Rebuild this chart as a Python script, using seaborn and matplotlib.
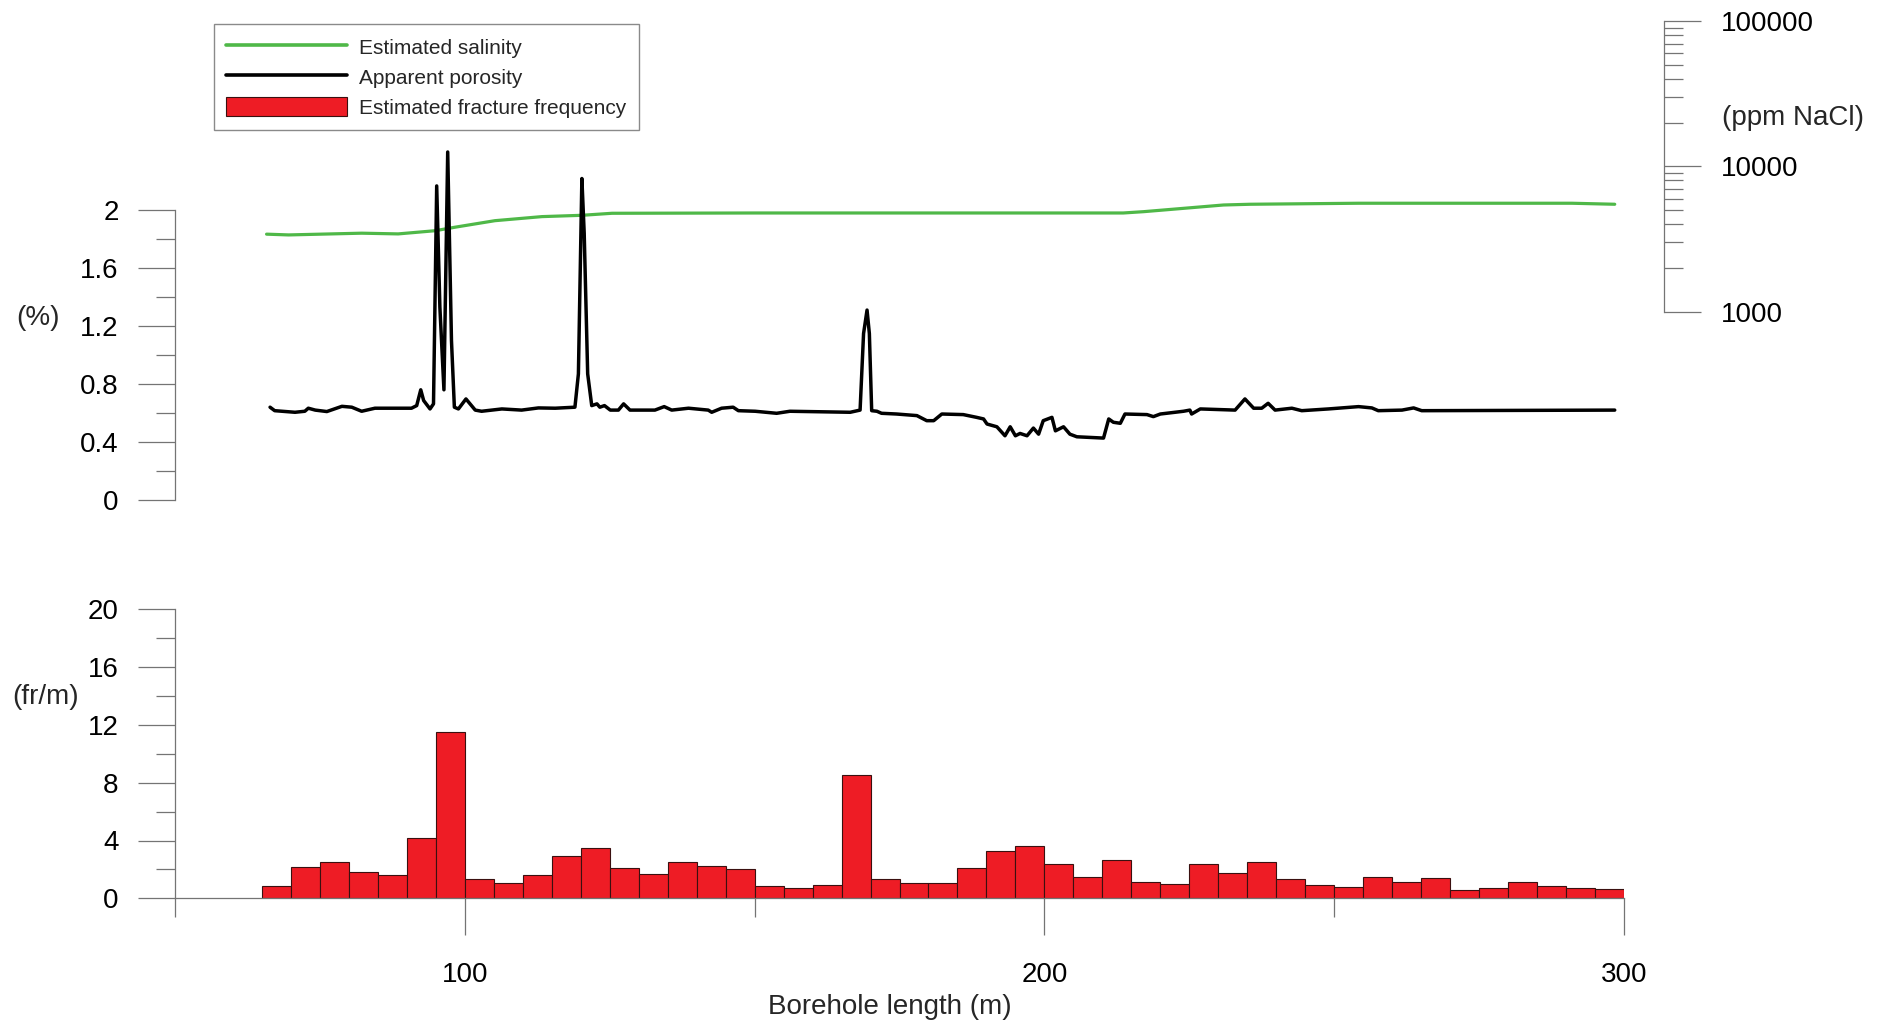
import numpy as np
import matplotlib
matplotlib.use('Agg')
import matplotlib.pyplot as plt
from matplotlib.lines import Line2D
from matplotlib.patches import Patch
from matplotlib.ticker import FixedLocator, FuncFormatter, NullFormatter
import seaborn as sns

# ---- data ----
# apparent porosity (%) vs borehole length (m)
porosity_depth = [66.4, 67.2, 70.7, 72.4, 73.0, 74.2, 76.2, 78.8, 80.5, 82.2, 84.5, 88.0, 90.8,
                  91.7, 92.4, 92.9, 94.0, 94.6, 95.15, 95.7, 96.4, 97.05, 97.7, 98.2, 98.9, 100.2,
                  101.8, 102.9, 106.4, 109.8, 112.7, 115.6, 119.0, 119.6, 120.2, 120.6, 121.2,
                  121.9, 122.8, 123.3, 124.1, 125.1, 126.5, 127.4, 128.5, 132.8, 134.4, 135.7,
                  138.6, 142.0, 142.6, 144.3, 146.3, 147.2, 150.1, 153.8, 156.1, 166.5, 168.2,
                  168.8, 169.4, 169.8, 170.2, 171.1, 171.9, 174.5, 178.0, 179.7, 180.9, 182.3,
                  186.0, 188.3, 189.5, 190.1, 191.8, 193.2, 194.1, 195.0, 195.8, 197.0, 198.1,
                  199.0, 199.8, 201.3, 201.9, 203.3, 204.4, 205.6, 210.2, 211.1, 211.9, 213.1,
                  213.9, 217.7, 218.8, 220.0, 224.0, 225.1, 225.4, 226.9, 232.9, 234.6, 236.1,
                  237.5, 238.6, 239.8, 242.7, 244.4, 249.0, 254.2, 256.5, 257.6, 261.7, 263.7,
                  265.1, 298.4]
porosity_value = [0.64, 0.616, 0.605, 0.612, 0.633, 0.62, 0.61, 0.646, 0.64, 0.612, 0.633, 0.633, 0.633,
                  0.651, 0.76, 0.686, 0.628, 0.663, 2.166, 1.33, 0.76, 2.40, 1.10, 0.64, 0.628, 0.697,
                  0.62, 0.612, 0.628, 0.62, 0.635, 0.633, 0.64, 0.87, 2.217, 1.84, 0.87,
                  0.651, 0.663, 0.64, 0.651, 0.62, 0.62, 0.663, 0.62, 0.62, 0.644, 0.62,
                  0.633, 0.62, 0.605, 0.633, 0.64, 0.616, 0.612, 0.598, 0.612, 0.605, 0.62,
                  1.148, 1.31, 1.148, 0.616, 0.612, 0.598, 0.593, 0.582, 0.547, 0.547, 0.593,
                  0.589, 0.57, 0.559, 0.524, 0.505, 0.443, 0.505, 0.443, 0.459, 0.443, 0.496,
                  0.454, 0.547, 0.57, 0.477, 0.505, 0.454, 0.436, 0.427, 0.559, 0.536, 0.529,
                  0.593, 0.589, 0.575, 0.593, 0.612, 0.62, 0.593, 0.628, 0.62, 0.697, 0.633,
                  0.633, 0.667, 0.62, 0.633, 0.616, 0.628, 0.644, 0.635, 0.616, 0.62, 0.635,
                  0.616, 0.62]

# estimated salinity (ppm NaCl)
salinity_depth = [65.8, 69.6, 82.2, 88.5, 94.9, 98.3, 105.2, 113.3, 120.2, 125.4, 150.1,
                  213.6, 217.1, 224.0, 230.9, 235.5, 254.2, 291.0, 298.4]
salinity_ppm = [3414, 3373, 3467, 3428, 3606, 3811, 4227, 4508, 4603, 4753, 4775,
                4775, 4875, 5140, 5420, 5483, 5572, 5572, 5483]

# estimated fracture frequency (fr/m), 5 m sections
fracture_from = [65, 70, 75, 80, 85, 90, 95, 100, 105, 110, 115, 120, 125, 130, 135, 140,
                 145, 150, 155, 160, 165, 170, 175, 180, 185, 190, 195, 200, 205, 210, 215,
                 220, 225, 230, 235, 240, 245, 250, 255, 260, 265, 270, 275, 280, 285, 290, 295]
fracture_to = [f + 5 for f in fracture_from]
fracture_freq = [0.83, 2.14, 2.51, 1.80, 1.59, 4.15, 11.5, 1.34, 1.04, 1.64, 2.93, 3.48, 2.10,
                 1.71, 2.51, 2.24, 2.00, 0.83, 0.71, 0.92, 8.50, 1.34, 1.06, 1.06, 2.12, 3.25,
                 3.59, 2.35, 1.47, 2.65, 1.13, 0.99, 2.37, 1.77, 2.49, 1.36, 0.92, 0.81, 1.50,
                 1.13, 1.38, 0.60, 0.69, 1.15, 0.88, 0.71, 0.65]

porosity_ticks = [0, 0.4, 0.8, 1.2, 1.6, 2]
porosity_minor = [0.2, 0.6, 1.0, 1.4, 1.8]
salinity_ticks = [1000, 10000, 100000]
salinity_minor = [k * 10 ** e for e in (3, 4) for k in range(2, 10)]
freq_ticks = [0, 4, 8, 12, 16, 20]
freq_minor = [2, 6, 10, 14, 18]
depth_ticks = [100, 200, 300]
depth_minor = [50, 150, 250]

GREEN = '#4fb848'
RED = '#ee1c25'
GRAY = '#747474'

sns.set_theme(style='ticks')
plt.rcParams['font.family'] = ['Liberation Sans', 'DejaVu Sans']

W, H = 1903, 1028
fig = plt.figure(figsize=(W / 100, H / 100), dpi=100)

ax_top = fig.add_axes([175 / W, 1 - 500 / H, 1449 / W, 479 / H])
ax_sal = ax_top.twinx()
ax_bot = fig.add_axes([175 / W, 1 - 898.3 / H, 1449 / W, 289 / H])

# ---- top panel ----
sns.lineplot(x=salinity_depth, y=salinity_ppm, ax=ax_sal, color=GREEN, linewidth=2.3)
sns.lineplot(x=porosity_depth, y=porosity_value, ax=ax_top, color='black', linewidth=2.5)
ax_top.set_zorder(ax_sal.get_zorder() + 1)
ax_top.patch.set_visible(False)

ax_top.set_xlim(50, 300)
ax_top.set_ylim(0, 479 / 145)
ax_sal.set_yscale('log')
ax_sal.set_ylim(10 ** (3 - (500 - 311.7) / 145.3), 1e5)

for s in ['top', 'right', 'bottom']:
    ax_top.spines[s].set_visible(False)
for s in ['top', 'left', 'bottom']:
    ax_sal.spines[s].set_visible(False)
ax_top.spines['left'].set_bounds(0, 2)
ax_sal.spines['right'].set_bounds(1000, 100000)
ax_sal.spines['right'].set_position(('outward', 28.8))
for sp in [ax_top.spines['left'], ax_sal.spines['right']]:
    sp.set_color(GRAY)
    sp.set_linewidth(0.9)

ax_top.set_xticks([])
ax_top.yaxis.set_major_locator(FixedLocator(porosity_ticks))
ax_top.yaxis.set_minor_locator(FixedLocator(porosity_minor))
ax_top.yaxis.set_major_formatter(FuncFormatter(lambda v, _: f'{v:g}'))
ax_sal.yaxis.set_major_locator(FixedLocator(salinity_ticks))
ax_sal.yaxis.set_minor_locator(FixedLocator(salinity_minor))
ax_sal.yaxis.set_major_formatter(FuncFormatter(lambda v, _: f'{v:.0f}'))
ax_sal.yaxis.set_minor_formatter(NullFormatter())

# ---- bottom panel ----
edges = fracture_from + [fracture_to[-1]]
centers = [(a + b) / 2 for a, b in zip(fracture_from, fracture_to)]
sns.histplot(x=centers, weights=fracture_freq, bins=edges, ax=ax_bot,
             color=RED, edgecolor='#3a1010', linewidth=0.8, alpha=1)
ax_bot.set_xlim(50, 300)
ax_bot.set_ylim(0, 20)
for s in ['top', 'right']:
    ax_bot.spines[s].set_visible(False)
for s in ['left', 'bottom']:
    ax_bot.spines[s].set_color(GRAY)
    ax_bot.spines[s].set_linewidth(0.9)
ax_bot.yaxis.set_major_locator(FixedLocator(freq_ticks))
ax_bot.yaxis.set_minor_locator(FixedLocator(freq_minor))
ax_bot.xaxis.set_major_locator(FixedLocator(depth_ticks))
ax_bot.xaxis.set_minor_locator(FixedLocator(depth_minor))
ax_bot.xaxis.set_minor_formatter(NullFormatter())

for ax in [ax_top, ax_sal, ax_bot]:
    ax.set_ylabel('')
    ax.set_xlabel('')
    ax.tick_params(which='major', direction='out', length=26.6, width=0.9, color=GRAY,
                   pad=14, labelsize=20, labelcolor='black')
    ax.tick_params(which='minor', direction='out', length=13.7, width=0.9, color=GRAY)
ax_bot.tick_params(axis='x', which='major', pad=19)

ax_bot.set_xlabel('Borehole length (m)', fontsize=20)
ax_bot.xaxis.set_label_coords((890 - 175) / 1449, -0.331)

fig.text(38 / W, 1 - 318 / H, '(%)', ha='center', va='center', fontsize=20)
fig.text(46 / W, 1 - 697 / H, '(fr/m)', ha='center', va='center', fontsize=20)
fig.text(1722 / W, 1 - 118 / H, '(ppm NaCl)', ha='left', va='center', fontsize=20)

handles = [Line2D([], [], color=GREEN, linewidth=2.6),
           Line2D([], [], color='black', linewidth=2.6),
           Patch(facecolor=RED, edgecolor='#3a1010', linewidth=0.8)]
labels = ['Estimated salinity', 'Apparent porosity', 'Estimated fracture frequency']
leg = fig.legend(handles, labels, loc='upper left', bbox_to_anchor=(213.6 / W, 1 - 24.3 / H),
                 fontsize=15, frameon=True, fancybox=False, framealpha=1, edgecolor='#8a8a8a',
                 handlelength=5.8, handleheight=1.05, handletextpad=0.58, borderpad=0.6,
                 labelspacing=0.45, borderaxespad=0)
leg.get_frame().set_linewidth(1.0)

fig.savefig('out.png', dpi=100)
